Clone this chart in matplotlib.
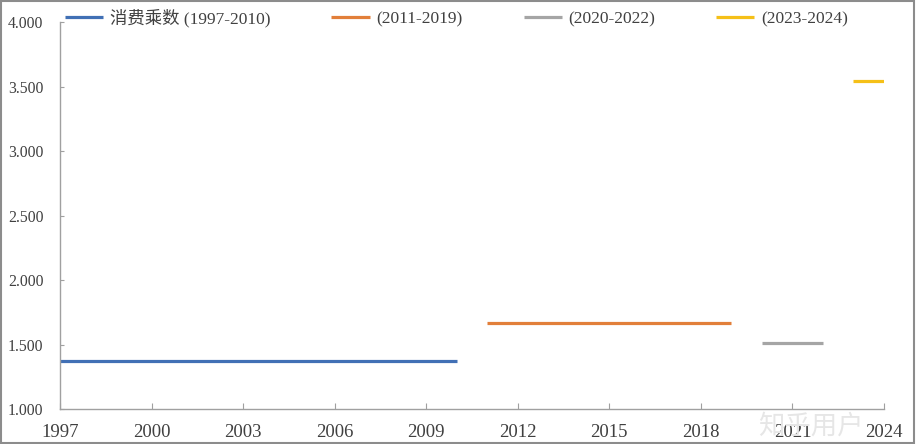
import matplotlib
matplotlib.use("Agg")
import matplotlib.pyplot as plt
from matplotlib.patches import Rectangle

# consumption multiplier, one flat segment per period
labels = ["消费乘数 (1997-2010)", "(2011-2019)", "(2020-2022)", "(2023-2024)"]
years = [
    [1997, 2010],
    [2011, 2019],
    [2020, 2022],
    [2023, 2024],
]
values = [
    [1.372, 1.372],
    [1.667, 1.667],
    [1.512, 1.512],
    [3.545, 3.545],
]
colors = ["#4170B5", "#E27F3A", "#A5A5A5", "#F5C018"]
xticks = [1997, 2000, 2003, 2006, 2009, 2012, 2015, 2018, 2021, 2024]
yticks = [1.0, 1.5, 2.0, 2.5, 3.0, 3.5, 4.0]

FONT = ["Liberation Serif", "Noto Sans CJK SC"]
plt.rcParams["font.family"] = FONT

fig = plt.figure(figsize=(9.16, 4.44), dpi=100)
ax = fig.add_axes([60 / 916, 1 - 409 / 444, 824 / 916, 387 / 444])

for xs, ys, c, lab in zip(years, values, colors, labels):
    ax.plot(xs, ys, color=c, lw=2.3, solid_capstyle="butt", label=lab)

ax.set_xlim(1997, 2024)
ax.set_ylim(1.0, 4.0)
ax.set_xticks(xticks)
ax.set_yticks(yticks)
ax.set_yticklabels([f"{v:.3f}" for v in yticks])
ax.tick_params(axis="x", direction="in", length=4, color="#A0A0A0",
               labelsize=13.5, labelcolor="#404040", pad=11)
ax.tick_params(axis="y", direction="in", length=3, color="#A0A0A0",
               labelsize=11.3, labelcolor="#404040", pad=12)
for s in ["top", "right"]:
    ax.spines[s].set_visible(False)
for s in ["left", "bottom"]:
    ax.spines[s].set_color("#A0A0A0")
    ax.spines[s].set_linewidth(1.0)

leg = fig.legend(loc="center left", bbox_to_anchor=(58 / 916, 1 - 18 / 444),
                 ncol=4, frameon=False, fontsize=12.5, handlelength=2.2,
                 handletextpad=0.4, columnspacing=3.5, borderaxespad=0)
for t in leg.get_texts():
    t.set_color("#404040")

# watermark
fig.text(864 / 916, 1 - 426 / 444, "知乎用户", ha="right", va="center",
         fontsize=19, color="#E6E6E6", family=["Noto Sans CJK SC"])

fig.patches.append(Rectangle((0.001, 0.002), 0.997, 0.995, transform=fig.transFigure,
                             fill=False, edgecolor="#8C8C8C", lw=1.5))

fig.savefig("out.png", dpi=100)
